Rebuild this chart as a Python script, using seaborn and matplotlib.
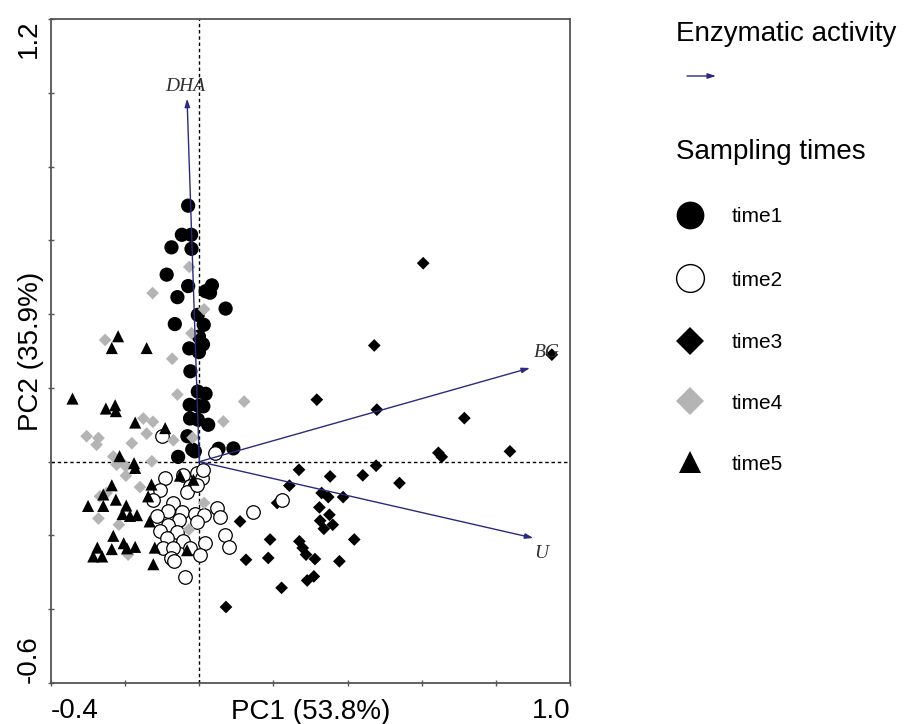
import numpy as np
import pandas as pd
import matplotlib
matplotlib.use("Agg")
import matplotlib.pyplot as plt
import seaborn as sns
from matplotlib.lines import Line2D

# ---------------- data (PC1, PC2 scores) ----------------
time1_x = [-0.030, -0.047, -0.022, -0.075, -0.021, -0.088, -0.030, -0.059, 0.017, 0.034,
           0.029, 0.071, -0.004, -0.066, 0.012, -0.001, 0.010, -0.027, -0.001, -0.024,
           0.017, -0.004, -0.026, -0.002, 0.011, -0.025, -0.004, 0.024, -0.032, -0.012,
           -0.019, -0.057, 0.052, 0.092]
time1_y = [0.694, 0.615, 0.615, 0.581, 0.577, 0.507, 0.476, 0.446, 0.462, 0.478,
           0.458, 0.415, 0.398, 0.373, 0.371, 0.339, 0.318, 0.307, 0.297, 0.245,
           0.184, 0.190, 0.154, 0.151, 0.150, 0.117, 0.114, 0.100, 0.069, 0.028,
           0.033, 0.013, 0.035, 0.036]

time2_x = [-0.093, -0.106, -0.043, -0.007, 0.006, -0.025, -0.034, -0.124, -0.070, -0.084,
           -0.047, -0.012, 0.013, -0.114, -0.055, -0.007, -0.084, -0.106, -0.059, -0.086,
           -0.043, 0.015, -0.097, -0.070, -0.025, 0.002, -0.076, -0.068, -0.039, 0.047,
           0.056, 0.145, 0.069, 0.080, 0.222, 0.042, 0.010, -0.006, -0.101]
time2_y = [-0.043, -0.076, -0.035, -0.031, -0.044, -0.067, -0.083, -0.103, -0.112, -0.135,
           -0.137, -0.141, -0.144, -0.148, -0.159, -0.164, -0.171, -0.189, -0.190, -0.207,
           -0.216, -0.220, -0.233, -0.234, -0.234, -0.252, -0.261, -0.268, -0.314, -0.125,
           -0.149, -0.137, -0.199, -0.230, -0.103, 0.023, -0.022, -0.062, 0.070]

time3_x = [0.604, 0.472, 0.951, 0.317, 0.479, 0.715, 0.645, 0.654, 0.838, 0.269,
           0.353, 0.441, 0.477, 0.540, 0.243, 0.330, 0.348, 0.388, 0.210, 0.324,
           0.351, 0.326, 0.360, 0.336, 0.110, 0.418, 0.191, 0.270, 0.279, 0.288,
           0.312, 0.186, 0.126, 0.378, 0.309, 0.291, 0.222, 0.072]
time3_y = [0.538, 0.315, 0.290, 0.168, 0.141, 0.118, 0.024, 0.013, 0.028, -0.022,
           -0.040, -0.037, -0.011, -0.058, -0.065, -0.085, -0.096, -0.096, -0.112, -0.124,
           -0.144, -0.160, -0.171, -0.182, -0.162, -0.211, -0.211, -0.216, -0.234, -0.252,
           -0.264, -0.261, -0.266, -0.270, -0.311, -0.322, -0.342, -0.394]

time4_x = [-0.027, -0.126, 0.013, -0.021, -0.254, -0.073, -0.059, 0.121, -0.151, -0.125,
           0.065, -0.142, -0.304, -0.272, -0.277, -0.182, -0.070, -0.018, -0.232, -0.214,
           -0.128, -0.223, -0.198, -0.198, -0.160, -0.268, -0.250, -0.272, -0.217, -0.028,
           0.013, -0.192]
time4_y = [0.528, 0.457, 0.413, 0.348, 0.330, 0.279, 0.182, 0.163, 0.117, 0.108,
           0.109, 0.076, 0.069, 0.064, 0.046, 0.050, 0.058, 0.065, 0.014, 0.003,
           0.001, -0.008, -0.013, -0.038, -0.069, -0.094, -0.085, -0.154, -0.171, -0.184,
           -0.112, -0.252]

time5_x = [-0.219, -0.236, -0.142, -0.342, -0.252, -0.227, -0.225, -0.173, -0.092, -0.005,
           -0.215, -0.176, -0.173, -0.052, -0.016, -0.129, -0.236, -0.259, -0.225, -0.138,
           -0.300, -0.259, -0.197, -0.207, -0.187, -0.168, -0.134, -0.232, -0.275, -0.236,
           -0.204, -0.195, -0.173, -0.120, -0.033, -0.286, -0.262, -0.124]
time5_y = [0.340, 0.308, 0.308, 0.171, 0.144, 0.153, 0.137, 0.106, 0.091, 0.195,
           0.015, -0.004, -0.017, -0.038, -0.049, -0.062, -0.064, -0.089, -0.103, -0.094,
           -0.120, -0.120, -0.119, -0.142, -0.147, -0.145, -0.162, -0.201, -0.233, -0.237,
           -0.221, -0.235, -0.231, -0.233, -0.240, -0.257, -0.257, -0.278]

enzymes = ["DHA", "BG", "U"]
enzyme_pc1 = [-0.033, 0.892, 0.901]
enzyme_pc2 = [0.984, 0.254, -0.207]

groups = ["time1", "time2", "time3", "time4", "time5"]
xs = [time1_x, time2_x, time3_x, time4_x, time5_x]
ys = [time1_y, time2_y, time3_y, time4_y, time5_y]

df = pd.concat([pd.DataFrame({"PC1": x, "PC2": y, "time": g})
                for g, x, y in zip(groups, xs, ys)], ignore_index=True)

# ---------------- styles ----------------
style = {
    "time1": dict(marker="o", color="black", edgecolor="none", s=105, lw=0),
    "time2": dict(marker="o", color="white", edgecolor="black", s=95, lw=0.9),
    "time3": dict(marker="D", color="black", edgecolor="none", s=42, lw=0),
    "time4": dict(marker="D", color="#b4b4b4", edgecolor="none", s=42, lw=0),
    "time5": dict(marker="^", color="black", edgecolor="none", s=76, lw=0),
}
legend_ms = {"time1": 20, "time2": 20, "time3": 14, "time4": 14, "time5": 16.5}
draw_order = ["time3", "time1", "time2", "time4", "time5"]
arrow_color = "#2a2a80"

sns.set_theme(style="white")
plt.rcParams["font.family"] = ["Liberation Sans", "DejaVu Sans"]
plt.rcParams["text.color"] = "black"
plt.rcParams["axes.labelcolor"] = "black"

W, H = 912, 724
fig = plt.figure(figsize=(W / 100, H / 100), dpi=100)
ax = fig.add_axes([51 / W, 1 - 683 / H, 519 / W, 664 / H])

ax.axhline(0, color="black", lw=1, ls=(0, (2.5, 2)), zorder=1)
ax.axvline(0, color="black", lw=1, ls=(0, (2.5, 2)), zorder=1)

for i, g in enumerate(draw_order):
    st = style[g]
    sub = df[df["time"] == g]
    sns.scatterplot(data=sub, x="PC1", y="PC2", ax=ax, marker=st["marker"],
                    color=st["color"], edgecolor=st["edgecolor"], s=st["s"],
                    linewidth=st["lw"], legend=False, zorder=2 + i)

label_offsets = {"DHA": (-1.5, 9), "BG": (12, 11), "U": (6, -11)}
for name, ex, ey in zip(enzymes, enzyme_pc1, enzyme_pc2):
    ax.annotate("", xy=(ex, ey), xytext=(0, 0),
                arrowprops=dict(arrowstyle="-|>,head_length=0.4,head_width=0.13",
                                color=arrow_color, lw=1, shrinkA=0, shrinkB=0),
                zorder=10)
    ax.annotate(name, xy=(ex, ey), xytext=label_offsets[name], textcoords="offset points",
                ha="center", va="center", fontsize=14, fontstyle="italic",
                family=["Liberation Serif", "DejaVu Serif"], color="#303030", zorder=11)

ax.set_xlim(-0.4, 1.0)
ax.set_ylim(-0.6, 1.2)
xticks = [-0.4, -0.2, 0.0, 0.2, 0.4, 0.6, 0.8, 1.0]
yticks = [-0.6, -0.4, -0.2, 0.0, 0.2, 0.4, 0.6, 0.8, 1.0, 1.2]
ax.set_xticks(xticks, ["-0.4"] + [""] * 6 + ["1.0"])
ax.set_yticks(yticks, ["-0.6"] + [""] * 8 + ["1.2"])
ax.tick_params(axis="both", direction="inout", length=5, width=1, color="#555555",
               labelsize=20, labelcolor="black", bottom=True, left=True)
ax.tick_params(axis="x", pad=8)
ax.tick_params(axis="y", pad=4)
xl = ax.get_xticklabels()
xl[0].set_ha("left")
xl[-1].set_ha("right")
yl = ax.get_yticklabels()
for lab in yl:
    lab.set_rotation(90)
    lab.set_ha("right")
yl[0].set_va("bottom")
yl[-1].set_va("top")

for sp in ax.spines.values():
    sp.set_color("#555555")
    sp.set_linewidth(1.3)

ax.set_xlabel("PC1 (53.8%)", fontsize=20, color="black")
ax.xaxis.set_label_coords(0.5, -0.024)
ax.set_ylabel("PC2 (35.9%)", fontsize=20, color="black")
ax.yaxis.set_label_coords(-0.014, 0.5)

# ---------------- legend (right side) ----------------
fig.text(676 / W, 1 - 41 / H, "Enzymatic activity", fontsize=20, ha="left", va="baseline",
         color="black")
ax.annotate("", xy=(716, H - 76), xytext=(687, H - 76), xycoords="figure pixels",
            textcoords="figure pixels", annotation_clip=False,
            arrowprops=dict(arrowstyle="-|>,head_length=0.4,head_width=0.13",
                            color=arrow_color, lw=1, shrinkA=0, shrinkB=0))
fig.text(676 / W, 1 - 159 / H, "Sampling times", fontsize=20, ha="left", va="baseline",
         color="black")

row_y = [215, 278, 341, 401, 462]
for g, ry in zip(groups, row_y):
    st = style[g]
    fig.add_artist(Line2D([690 / W], [1 - ry / H], transform=fig.transFigure,
                          marker=st["marker"], markersize=legend_ms[g], linestyle="none",
                          markerfacecolor=st["color"],
                          markeredgecolor="black" if g == "time2" else st["color"],
                          markeredgewidth=1.0 if g == "time2" else 0))
    fig.text(732 / W, 1 - (ry + 2) / H, g, fontsize=15, ha="left", va="center",
             color="black")

fig.savefig("out.png", dpi=100)
